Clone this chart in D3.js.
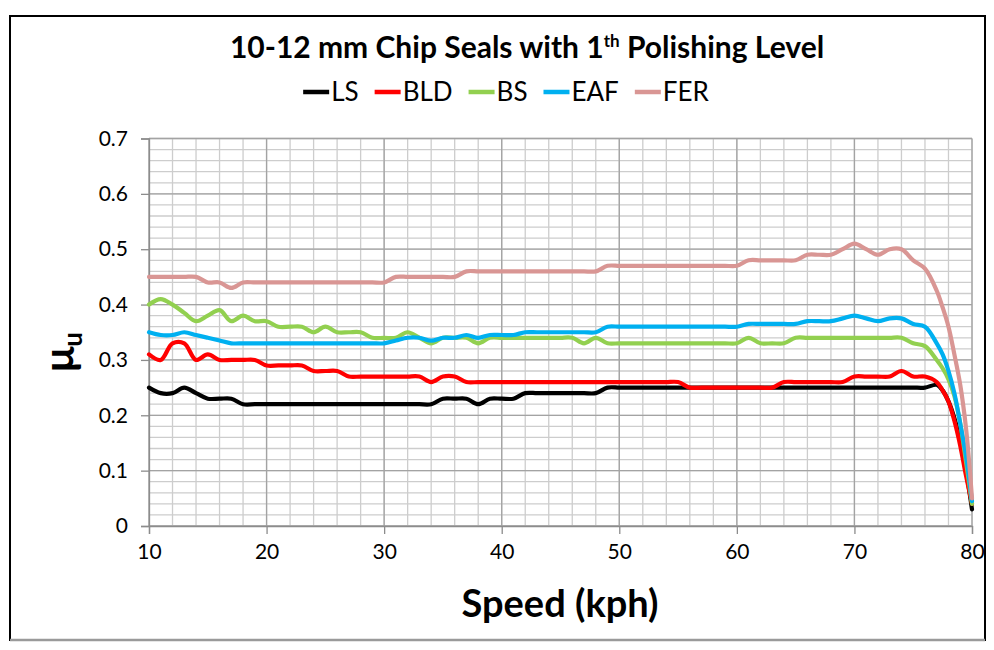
<!DOCTYPE html>
<html>
<head>
<meta charset="utf-8">
<script src="https://cdn.jsdelivr.net/npm/d3@7"></script>
<style>
  html, body { margin: 0; padding: 0; background: #fff; }
  svg { display: block; }
  text { font-family: Lato, "Open Sans", "Noto Sans", sans-serif; fill: #000; }
</style>
</head>
<body>
<svg id="chart" width="994" height="650"></svg>
<script>
// Speed readings (kph); the tail is sampled every half kph
const speeds = [10,11,12,13,14,15,16,17,18,19,
  20,21,22,23,24,25,26,27,28,29,
  30,31,32,33,34,35,36,37,38,39,
  40,41,42,43,44,45,46,47,48,49,
  50,51,52,53,54,55,56,57,58,59,
  60,61,62,63,64,65,66,67,68,69,
  70,71,72,73,74,75,76,77,
  77.5,78,78.5,79,79.5,80];

const lsValues = [0.25,0.24,0.24,0.25,0.24,0.23,0.23,0.23,0.22,0.22,
  0.22,0.22,0.22,0.22,0.22,0.22,0.22,0.22,0.22,0.22,
  0.22,0.22,0.22,0.22,0.22,0.23,0.23,0.23,0.22,0.23,
  0.23,0.23,0.24,0.24,0.24,0.24,0.24,0.24,0.24,0.25,
  0.25,0.25,0.25,0.25,0.25,0.25,0.25,0.25,0.25,0.25,
  0.25,0.25,0.25,0.25,0.25,0.25,0.25,0.25,0.25,0.25,
  0.25,0.25,0.25,0.25,0.25,0.25,0.25,0.255,
  0.245,0.225,0.195,0.155,0.10,0.03];

const bldValues = [0.31,0.30,0.33,0.33,0.30,0.31,0.30,0.30,0.30,0.30,
  0.29,0.29,0.29,0.29,0.28,0.28,0.28,0.27,0.27,0.27,
  0.27,0.27,0.27,0.27,0.26,0.27,0.27,0.26,0.26,0.26,
  0.26,0.26,0.26,0.26,0.26,0.26,0.26,0.26,0.26,0.26,
  0.26,0.26,0.26,0.26,0.26,0.26,0.25,0.25,0.25,0.25,
  0.25,0.25,0.25,0.25,0.26,0.26,0.26,0.26,0.26,0.26,
  0.27,0.27,0.27,0.27,0.28,0.27,0.27,0.26,
  0.245,0.225,0.19,0.145,0.09,0.04];

const bsValues = [0.40,0.41,0.40,0.385,0.37,0.38,0.39,0.37,0.38,0.37,
  0.37,0.36,0.36,0.36,0.35,0.36,0.35,0.35,0.35,0.34,
  0.34,0.34,0.35,0.34,0.33,0.34,0.34,0.34,0.33,0.34,
  0.34,0.34,0.34,0.34,0.34,0.34,0.34,0.33,0.34,0.33,
  0.33,0.33,0.33,0.33,0.33,0.33,0.33,0.33,0.33,0.33,
  0.33,0.34,0.33,0.33,0.33,0.34,0.34,0.34,0.34,0.34,
  0.34,0.34,0.34,0.34,0.34,0.33,0.325,0.30,
  0.285,0.265,0.235,0.185,0.115,0.04];

const eafValues = [0.35,0.345,0.345,0.35,0.345,0.34,0.335,0.33,0.33,0.33,
  0.33,0.33,0.33,0.33,0.33,0.33,0.33,0.33,0.33,0.33,
  0.33,0.335,0.34,0.34,0.335,0.34,0.34,0.345,0.34,0.345,
  0.345,0.345,0.35,0.35,0.35,0.35,0.35,0.35,0.35,0.36,
  0.36,0.36,0.36,0.36,0.36,0.36,0.36,0.36,0.36,0.36,
  0.36,0.365,0.365,0.365,0.365,0.365,0.37,0.37,0.37,0.375,
  0.38,0.375,0.37,0.375,0.375,0.365,0.36,0.33,
  0.31,0.28,0.24,0.185,0.125,0.045];

const ferValues = [0.45,0.45,0.45,0.45,0.45,0.44,0.44,0.43,0.44,0.44,
  0.44,0.44,0.44,0.44,0.44,0.44,0.44,0.44,0.44,0.44,
  0.44,0.45,0.45,0.45,0.45,0.45,0.45,0.46,0.46,0.46,
  0.46,0.46,0.46,0.46,0.46,0.46,0.46,0.46,0.46,0.47,
  0.47,0.47,0.47,0.47,0.47,0.47,0.47,0.47,0.47,0.47,
  0.47,0.48,0.48,0.48,0.48,0.48,0.49,0.49,0.49,0.50,
  0.51,0.50,0.49,0.50,0.50,0.48,0.465,0.425,
  0.395,0.36,0.31,0.255,0.175,0.05];

const seriesNames = ["LS", "BLD", "BS", "EAF", "FER"];
const seriesColors = ["#000000", "#ff0000", "#92d050", "#00b0f0", "#d99694"];
const seriesValues = [lsValues, bldValues, bsValues, eafValues, ferValues];

const xTicks = [10, 20, 30, 40, 50, 60, 70, 80];
const yTicks = [0, 0.1, 0.2, 0.3, 0.4, 0.5, 0.6, 0.7];

const titleText = "10-12 mm Chip Seals with 1";
const titleSup = "th";
const titleRest = " Polishing Level";
const xTitle = "Speed (kph)";

const svg = d3.select("#chart");
const plot = { left: 149, right: 972, top: 138.5, bottom: 526 };

const x = d3.scaleLinear().domain([10, 80]).range([plot.left, plot.right]);
const y = d3.scaleLinear().domain([0, 0.7]).range([plot.bottom, plot.top]);

// outer frame
svg.append("rect").attr("x", 10).attr("y", 16).attr("width", 975).attr("height", 624)
  .attr("fill", "#fff").attr("stroke", "#000").attr("stroke-width", 2);
svg.append("line").attr("x1", 10).attr("x2", 985).attr("y1", 640).attr("y2", 640)
  .attr("stroke", "#9a9a9a").attr("stroke-width", 2.5);

// grid: minor every 2 kph / 0.02, major every 10 kph / 0.1
const grid = svg.append("g");
const minorX = d3.range(10, 80.001, 2);
const minorY = d3.range(0, 0.7001, 0.02);
grid.selectAll("line.mx").data(minorX).join("line")
  .attr("x1", d => x(d)).attr("x2", d => x(d))
  .attr("y1", plot.top).attr("y2", plot.bottom)
  .attr("stroke", "#cdcdcd").attr("stroke-width", 1.3);
grid.selectAll("line.my").data(minorY).join("line")
  .attr("x1", plot.left).attr("x2", plot.right)
  .attr("y1", d => y(d)).attr("y2", d => y(d))
  .attr("stroke", "#cdcdcd").attr("stroke-width", 1.3);
grid.selectAll("line.Mx").data(xTicks).join("line")
  .attr("x1", d => x(d)).attr("x2", d => x(d))
  .attr("y1", plot.top).attr("y2", plot.bottom)
  .attr("stroke", "#a3a3a3").attr("stroke-width", 1.3);
grid.selectAll("line.My").data(yTicks).join("line")
  .attr("x1", plot.left).attr("x2", plot.right)
  .attr("y1", d => y(d)).attr("y2", d => y(d))
  .attr("stroke", "#a3a3a3").attr("stroke-width", 1.3);

// axes
const yAxis = d3.axisLeft(y).tickValues(yTicks).tickSize(8).tickPadding(13)
  .tickFormat(d => d === 0 ? "0" : d3.format(".1f")(d));
const gy = svg.append("g").attr("transform", `translate(${plot.left},0)`).call(yAxis);
const xAxis = d3.axisBottom(x).tickValues(xTicks).tickSize(8).tickPadding(10);
const gx = svg.append("g").attr("transform", `translate(0,${plot.bottom})`).call(xAxis);
[gx, gy].forEach(g => {
  g.select(".domain").attr("stroke", "#8c8c8c").attr("stroke-width", 1.3);
  g.selectAll(".tick line").attr("stroke", "#8c8c8c").attr("stroke-width", 1.3);
  g.selectAll(".tick text").attr("font-size", 21).attr("fill", "#1a1a1a")
    .style("font-family", "Lato, 'Open Sans', sans-serif");
});

// series lines
const line = d3.line()
  .x((d, i) => x(speeds[i]))
  .y(d => y(d))
  .curve(d3.curveCatmullRom.alpha(0.5));
svg.append("g").selectAll("path").data(seriesValues).join("path")
  .attr("d", d => line(d))
  .attr("fill", "none")
  .attr("stroke", (d, i) => seriesColors[i])
  .attr("stroke-width", 4.2)
  .attr("stroke-linejoin", "round")
  .attr("stroke-linecap", "round");

// title
const title = svg.append("text").attr("x", 527).attr("y", 58)
  .attr("text-anchor", "middle").attr("font-size", 30).attr("font-weight", 700);
title.append("tspan").text(titleText);
title.append("tspan").attr("font-size", 17).attr("dy", -11).text(titleSup);
title.append("tspan").attr("dy", 11).text(titleRest);

// legend
const legend = svg.append("g");
let lx = 0;
seriesNames.forEach((name, i) => {
  legend.append("line").attr("x1", lx).attr("x2", lx + 26).attr("y1", 0).attr("y2", 0)
    .attr("stroke", seriesColors[i]).attr("stroke-width", 4.5);
  const t = legend.append("text").attr("x", lx + 28).attr("y", 9)
    .attr("font-size", 26).text(name);
  lx += 28 + t.node().getComputedTextLength() + 16;
});
lx -= 16;
legend.attr("transform", `translate(${506 - lx / 2},92)`);

// axis titles
svg.append("text").attr("x", 560).attr("y", 617).attr("text-anchor", "middle")
  .attr("font-size", 38).attr("font-weight", 700).text(xTitle);
const yt = svg.append("text").attr("transform", "translate(74,352) rotate(-90)")
  .attr("text-anchor", "middle").attr("font-size", 42).attr("font-weight", 700);
yt.append("tspan").text("μ");
yt.append("tspan").attr("font-size", 26).attr("dy", 8).text("u");
</script>
</body>
</html>
